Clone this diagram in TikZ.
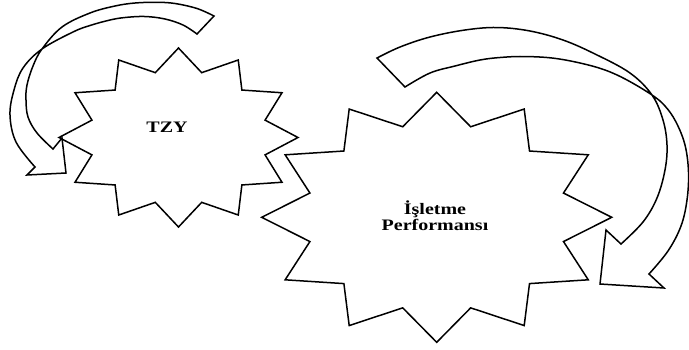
\documentclass[tikz,border=0pt]{standalone}
\usepackage{fontspec}
\setmainfont{Liberation Serif}
% twelve-point star: centre (#1,#2), radii #3 and #4, inner points at 75%
\newcommand\twelvestar[4]{%
  \draw[outline] plot[samples at={0,1,...,23}, variable=\k]
    ({#1+#3*(1-0.25*mod(\k,2))*cos(90+15*\k)},
     {#2-#4*(1-0.25*mod(\k,2))*sin(90+15*\k)}) -- cycle;}
\newcommand\widetext[1]{\scalebox{1.25}[1]{#1}}
\begin{document}
\begin{tikzpicture}[x=1pt, y=-1pt,
  outline/.style={draw=black, line width=1.5pt, line join=miter},
  lbl/.style={font=\bfseries\fontsize{16}{15.7}\selectfont, inner sep=0pt}]
\useasboundingbox (0,0) rectangle (689,349);

% stars
\coordinate (tzystar) at (178.5,137.5);
\coordinate (perfstar) at (436.7,217.3);
\twelvestar{178.5}{137.5}{119.5}{89.5}
\twelvestar{436.7}{217.3}{175}{125}

% labels
\node[lbl] (tzy) at (167,127.5) {\widetext{TZY}};
\node[lbl, align=center] (perf) at (435,215.5) {\widetext{İşletme}\\\widetext{Performansı}};

% curved block arrow on the left (tail at top, head pointing right)
\draw[outline]
  plot[smooth, tension=0.6] coordinates {(214,16) (197,8.5) (175,3.5) (157,2.3) (135,3) (115,6) (90,13) (62,27) (42,49) (33,66) (27,85) (26,100) (28,117) (37,133) (53,149)}
  -- (62,138) -- (66,173) -- (27,175) -- (35,167)
  -- plot[smooth, tension=0.6] coordinates {(35,167) (16,142) (10,115) (14,90) (23,68) (42,49) (73,32) (90,25.5) (110,20) (125,17.5) (145,16.5) (165,19) (183,25) (197,34)}
  -- cycle;

% curved block arrow on the right (tail at top, head pointing left)
\draw[outline]
  plot[smooth, tension=0.6] coordinates {(377,58) (400,47) (430,37) (465,30) (497,27.5) (530,31) (563,40) (595,54) (630,73) (652,95) (663,120) (667,145) (665,170) (657,198) (643,222) (621,244)}
  -- (606,230) -- (600,284) -- (664,288) -- (649,274)
  -- plot[smooth, tension=0.6] coordinates {(649,274) (668,251) (681,226) (687,200) (688.5,172) (685,145) (676,122) (665,106) (652,95) (627,80) (605,70) (580,63) (552,58) (523,56.5) (500,57.5) (480,60) (455,66) (430,73) (405,87)}
  -- cycle;
\end{tikzpicture}
\end{document}
